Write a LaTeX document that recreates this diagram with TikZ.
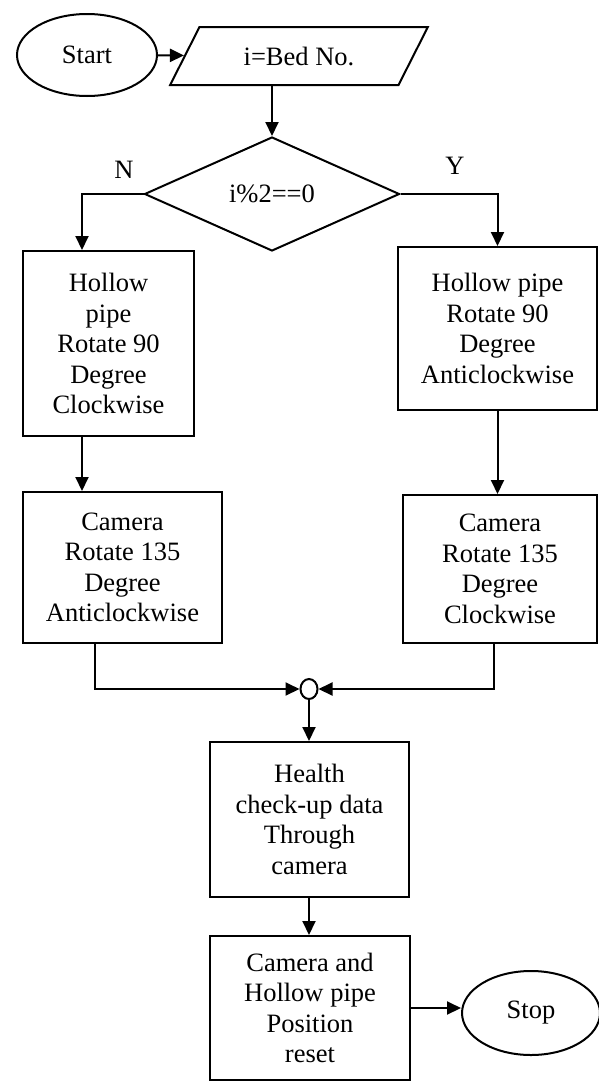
\documentclass[tikz,border=0pt]{standalone}
\usepackage{fontspec}
\setmainfont{Liberation Serif}
\usepackage{xcolor}
\usepackage{tikz}
\usetikzlibrary{arrows.meta,positioning,shapes.geometric}

\begin{document}
\begin{tikzpicture}[x=1pt, y=-1pt,
  every node/.style={font=\fontsize{26.5}{30.5}\selectfont, align=center},
  box/.style={draw, line width=2pt, inner sep=0pt},
  term/.style={draw, ellipse, line width=2pt, inner sep=0pt},
  flow/.style={line width=2pt, -{Triangle[length=14pt,width=13pt]}}]
\useasboundingbox (0,0) rectangle (599,1082);
\node[term, minimum width=140pt, minimum height=82pt] (start) at (87,55) {Start};
\node[box, trapezium, trapezium left angle=49, trapezium right angle=131, trapezium stretches=true, minimum width=258pt, minimum height=58pt] (bed) at (299,56) {i=Bed No.};
\node[box, diamond, minimum width=255pt, minimum height=114pt] (dec) at (272,194) {i\%2==0};
\node (nlab) at (124,170) {N};
\node (ylab) at (455,166) {Y};
\node[box, minimum width=171pt, minimum height=185pt] (hp1) at (108.5,343.5) {Hollow\\pipe\\Rotate 90\\Degree\\Clockwise};
\node[box, minimum width=199pt, minimum height=151pt] (cam1) at (122.5,567.5) {Camera\\Rotate 135\\Degree\\Anticlockwise};
\node[box, minimum width=199pt, minimum height=163pt] (hp2) at (497.5,328.5) {Hollow pipe\\Rotate 90\\Degree\\Anticlockwise};
\node[box, minimum width=194pt, minimum height=148pt] (cam2) at (500,569) {Camera\\Rotate 135\\Degree\\Clockwise};
\node[term, minimum width=17pt, minimum height=20pt] (join) at (309,689) {};
\node[box, minimum width=199pt, minimum height=155pt] (health) at (309.5,819.5) {Health\\check-up data\\Through\\camera};
\node[box, minimum width=200pt, minimum height=144pt] (reset) at (310,1008) {Camera and\\Hollow pipe\\Position\\reset};
\node[term, minimum width=138pt, minimum height=84pt] (stop) at (531,1013) {Stop};
\coordinate (nturn) at (82,194);
\coordinate (lfeed) at (95,689);
\coordinate (rfeed) at (494,689);

\draw[flow] (start) -- (bed);
\draw[flow] (bed.south -| dec) -- (dec.north);
\draw[flow] (dec.west) -- (nturn) -- (nturn |- hp1.north);
\draw[flow] (dec.east) -| (hp2.north);
\draw[flow] (nturn |- hp1.south) -- (nturn |- cam1.north);
\draw[flow] (hp2.south) -- (hp2.south |- cam2.north);
\draw[flow] (lfeed |- cam1.south) -- (lfeed) -- (join);
\draw[flow] (rfeed |- cam2.south) -- (rfeed) -- (join);
\draw[flow] (join) -- (join |- health.north);
\draw[flow] (health.south -| join) -- (join |- reset.north);
\draw[flow] (reset.east) -- (reset.east -| stop.west);
\end{tikzpicture}
\end{document}
